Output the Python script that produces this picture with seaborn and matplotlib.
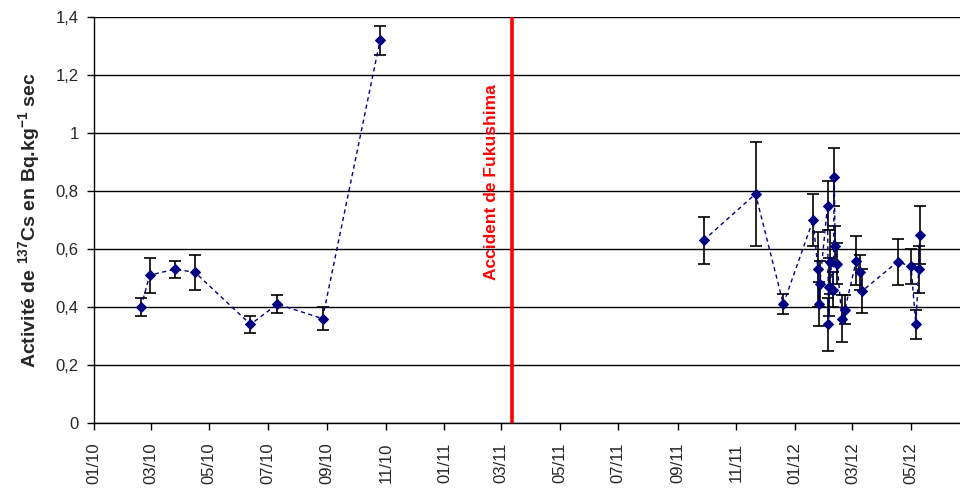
import matplotlib
matplotlib.use("Agg")
import matplotlib.pyplot as plt
import matplotlib.dates as mdates
import seaborn as sns
import pandas as pd
import numpy as np

# Mesures avant l'accident
dates_avant = ["2010-02-19", "2010-02-28", "2010-03-26", "2010-04-16",
               "2010-06-13", "2010-07-11", "2010-08-27", "2010-10-26"]
act_avant = [0.40, 0.51, 0.53, 0.52, 0.34, 0.41, 0.36, 1.32]
err_avant = [0.03, 0.06, 0.03, 0.06, 0.03, 0.03, 0.04, 0.05]

# Mesures apres l'accident
dates_apres = ["2011-09-28", "2011-11-21", "2011-12-20", "2012-01-20",
               "2012-01-25", "2012-01-26", "2012-01-27", "2012-02-04",
               "2012-02-05", "2012-02-06", "2012-02-07", "2012-02-10",
               "2012-02-11", "2012-02-12", "2012-02-14", "2012-02-19",
               "2012-02-22", "2012-03-05", "2012-03-09", "2012-03-11",
               "2012-04-17", "2012-05-01", "2012-05-06", "2012-05-09",
               "2012-05-10"]
act_apres = [0.63, 0.79, 0.41, 0.70, 0.53, 0.41, 0.48, 0.75, 0.34, 0.47,
             0.556, 0.46, 0.85, 0.61, 0.55, 0.36, 0.39, 0.56, 0.52, 0.455,
             0.556, 0.54, 0.34, 0.53, 0.65]
err_apres = [0.08, 0.18, 0.035, 0.09, 0.13, 0.075, 0.08, 0.085, 0.09, 0.10,
             0.11, 0.06, 0.10, 0.07, 0.07, 0.08, 0.05, 0.085, 0.06, 0.075,
             0.08, 0.06, 0.05, 0.08, 0.10]

DATE_ACCIDENT = "2011-03-12"
Y_TICKS = [0, 0.2, 0.4, 0.6, 0.8, 1.0, 1.2, 1.4]

df = pd.concat([
    pd.DataFrame({"date": pd.to_datetime(dates_avant), "act": act_avant,
                  "err": err_avant, "periode": "avant"}),
    pd.DataFrame({"date": pd.to_datetime(dates_apres), "act": act_apres,
                  "err": err_apres, "periode": "apres"}),
], ignore_index=True)

sns.set_style("white")
plt.rcParams['font.family'] = ['Liberation Sans', 'DejaVu Sans']
plt.rcParams['mathtext.fontset'] = 'custom'
plt.rcParams['mathtext.rm'] = 'Liberation Sans:bold'
plt.rcParams['mathtext.default'] = 'rm'

fig = plt.figure(figsize=(9.6, 4.88), dpi=100)
ax = fig.add_axes([94 / 960, 65 / 488, 866 / 960, 406 / 488])

# gridlines
for v in Y_TICKS:
    ax.axhline(v, color="black", linewidth=1, zorder=0)

ax.errorbar(df["date"], df["act"], yerr=df["err"], fmt="none",
            ecolor="black", elinewidth=1.2, capsize=4, capthick=1.2, zorder=2)

sns.lineplot(data=df, x="date", y="act", units="periode", estimator=None,
             color="#000080", linewidth=1, linestyle=(0, (3, 2.5)),
             marker="D", markersize=5.5, markeredgecolor="#000080",
             ax=ax, zorder=3)

ax.axvline(pd.Timestamp(DATE_ACCIDENT), color="#ff0000", linewidth=2.6, zorder=4)
ax.text(pd.Timestamp("2011-02-19"), 0.83, "Accident de Fukushima",
        rotation=90, ha="center", va="center", color="#ff0000",
        fontsize=12.5, fontweight="bold")

ax.set_xlim(pd.Timestamp("2010-01-01"), pd.Timestamp("2012-06-21"))
ax.set_ylim(0, 1.4)
ax.set_yticks(Y_TICKS)
ax.set_yticklabels([f"{v:g}".replace(".", ",") for v in Y_TICKS], fontsize=12)

ax.xaxis.set_major_locator(mdates.MonthLocator(bymonth=[1, 3, 5, 7, 9, 11]))
ax.xaxis.set_major_formatter(mdates.DateFormatter("%m/%y"))
plt.setp(ax.get_xticklabels(), rotation=90, fontsize=12)

ax.tick_params(axis="both", which="major", direction="out", length=5,
               width=1, color="black", bottom=True, left=True)
ax.tick_params(axis="x", pad=9)
ax.tick_params(axis="y", pad=6)

for side in ["top", "right"]:
    ax.spines[side].set_visible(False)
for side in ["left", "bottom"]:
    ax.spines[side].set_color("black")
    ax.spines[side].set_linewidth(1)

ax.set_xlabel("")
ax.set_ylabel("Activité de $^{137}$Cs en Bq.kg$^{-1}$ sec",
              fontsize=14, fontweight="bold", labelpad=10)
if ax.get_legend():
    ax.get_legend().remove()

plt.savefig("out.png", dpi=100)
